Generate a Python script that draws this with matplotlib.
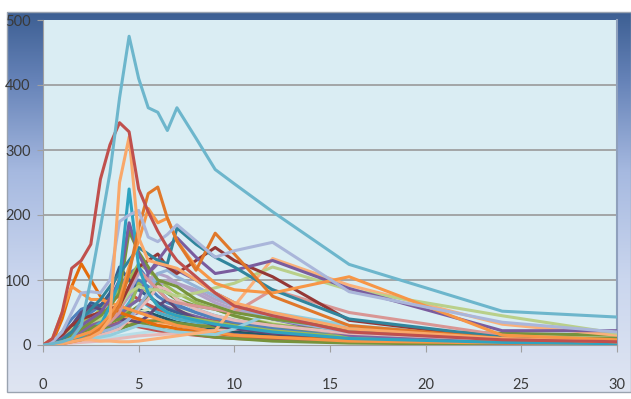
import numpy as np
import matplotlib
matplotlib.use("Agg")
import matplotlib.pyplot as plt
from matplotlib.colors import LinearSegmentedColormap
from matplotlib.patches import Rectangle

# ---- data ----
T = [0, 0.5, 1, 1.5, 2, 2.5, 3, 3.5, 4, 4.5, 5, 5.5, 6, 6.5, 7, 8, 9, 10, 12, 16, 24, 30]

s_low01 = [0, 2, 5, 10, 15, 20, 25, 30, 35, 40, 38, 35, 30, 28, 25, 22, 18, 15, 10, 5, 2, 1]
s_low02 = [0, 1, 3, 6, 10, 15, 20, 25, 30, 35, 40, 38, 35, 32, 30, 28, 25, 22, 18, 10, 5, 3]
s_low03 = [0, 1, 2, 4, 6, 8, 10, 12, 14, 16, 18, 20, 22, 24, 26, 28, 30, 30, 28, 16, 8, 5]
s_low04 = [0, 2, 5, 10, 18, 25, 30, 35, 40, 45, 55, 50, 45, 40, 35, 30, 25, 20, 15, 8, 3, 2]
s_low05 = [0, 3, 8, 15, 25, 35, 45, 40, 35, 30, 28, 25, 22, 20, 18, 15, 12, 10, 8, 5, 2, 1]
s_low06 = [0, 3, 8, 15, 20, 25, 30, 35, 40, 45, 50, 55, 60, 58, 55, 50, 45, 40, 35, 25, 15, 10]
s_low07 = [0, 2, 6, 12, 20, 28, 35, 40, 50, 60, 70, 60, 50, 45, 40, 35, 30, 26, 20, 12, 5, 3]
s_low08 = [0, 1, 4, 8, 12, 18, 22, 28, 34, 45, 50, 48, 40, 35, 30, 24, 20, 16, 12, 6, 2, 1]
s_low09 = [0, 2, 6, 14, 22, 30, 28, 26, 24, 30, 35, 30, 26, 22, 20, 16, 12, 10, 6, 3, 1, 0]
s_low10 = [0, 1, 2, 3, 4, 5, 6, 8, 10, 12, 14, 15, 16, 17, 18, 20, 22, 24, 26, 18, 8, 4]
s_add1 = [0, 4, 12, 25, 40, 50, 60, 75, 90, 110, 120, 100, 85, 70, 62, 50, 40, 33, 25, 12, 5, 2]
s_add2 = [0, 3, 8, 18, 28, 40, 55, 70, 85, 100, 125, 115, 100, 90, 80, 65, 55, 45, 32, 18, 8, 4]
s_add3 = [0, 2, 6, 12, 20, 30, 40, 50, 65, 80, 85, 75, 65, 58, 52, 44, 36, 30, 22, 10, 4, 2]
s_add4 = [0, 5, 15, 30, 45, 55, 62, 70, 75, 80, 70, 62, 55, 50, 45, 40, 36, 32, 28, 18, 8, 4]
s_add5 = [0, 2, 5, 9, 14, 20, 26, 34, 45, 65, 90, 105, 95, 80, 70, 55, 45, 38, 28, 15, 6, 3]
s_add6 = [0, 3, 10, 22, 35, 45, 50, 48, 45, 42, 40, 38, 36, 34, 32, 30, 28, 26, 22, 14, 6, 3]
s_add7 = [0, 1, 3, 6, 10, 14, 18, 22, 26, 30, 34, 36, 38, 36, 34, 30, 28, 26, 24, 22, 18, 15]
s_add8 = [0, 2, 5, 10, 15, 22, 30, 40, 55, 75, 95, 100, 110, 105, 95, 80, 65, 55, 40, 22, 8, 4]
s_blue1 = [0, 5, 20, 40, 55, 60, 55, 50, 60, 80, 100, 90, 75, 65, 60, 50, 42, 35, 25, 12, 5, 3]
s_blue2 = [0, 3, 10, 25, 45, 65, 60, 80, 120, 100, 85, 75, 65, 55, 50, 40, 35, 30, 20, 10, 4, 2]
s_purple2 = [0, 5, 15, 30, 50, 60, 55, 45, 40, 38, 35, 45, 60, 70, 55, 40, 30, 25, 18, 8, 3, 0]
s_green2 = [0, 3, 10, 20, 30, 45, 40, 35, 45, 55, 95, 80, 60, 50, 45, 40, 35, 30, 22, 12, 5, 3]
s_lav2 = [0, 2, 5, 10, 15, 20, 30, 45, 60, 80, 110, 105, 90, 100, 95, 85, 70, 60, 45, 25, 8, 4]
s_purple3 = [0, 2, 5, 10, 15, 20, 25, 35, 45, 60, 70, 110, 125, 120, 115, 100, 80, 65, 40, 15, 5, 2]
s_green3 = [0, 2, 5, 10, 15, 25, 30, 35, 40, 50, 60, 75, 95, 80, 70, 60, 55, 45, 30, 20, 10, 8]
s_pink2 = [0, 1, 3, 5, 8, 12, 15, 20, 25, 40, 55, 70, 90, 85, 70, 55, 45, 38, 30, 18, 8, 4]
s_blue3 = [0, 2, 5, 8, 12, 16, 20, 24, 30, 40, 60, 80, 110, 115, 105, 90, 75, 60, 40, 20, 8, 4]
s_dorange2 = [0, 5, 40, 90, 125, 100, 75, 60, 50, 45, 40, 35, 30, 28, 25, 20, 18, 15, 12, 8, 4, 2]
s_orange2 = [0, 10, 50, 90, 80, 70, 70, 65, 60, 55, 50, 45, 40, 35, 30, 25, 20, 15, 12, 6, 3, 2]
s_lblue = [0, 2, 4, 6, 8, 10, 12, 15, 20, 25, 30, 28, 25, 22, 20, 18, 16, 25, 50, 30, 12, 5]
s_pink = [0, 2, 5, 10, 15, 20, 25, 35, 50, 90, 115, 100, 85, 70, 65, 60, 55, 50, 85, 50, 15, 5]
s_peach2 = [0, 2, 5, 8, 8, 8, 6, 6, 5, 5, 6, 8, 10, 12, 14, 18, 22, 60, 133, 92, 32, 15]
s_lgreen = [0, 5, 15, 25, 30, 35, 40, 50, 60, 80, 90, 85, 85, 80, 75, 80, 88, 95, 120, 85, 45, 18]
s_dred = [0, 5, 15, 30, 40, 45, 50, 55, 60, 90, 120, 130, 140, 120, 110, 130, 150, 130, 105, 38, 10, 5]
s_olive = [0, 2, 8, 15, 25, 35, 45, 60, 80, 175, 143, 120, 100, 95, 90, 70, 60, 50, 40, 25, 12, 10]
s_purple = [0, 3, 10, 20, 30, 40, 50, 70, 100, 188, 140, 110, 130, 150, 165, 135, 110, 115, 130, 87, 22, 22]
s_teal2 = [0, 2, 8, 20, 40, 55, 70, 90, 110, 130, 150, 140, 130, 125, 180, 155, 135, 120, 85, 40, 12, 6]
s_teal1 = [0, 0, 3, 8, 12, 20, 30, 60, 100, 240, 120, 80, 60, 50, 45, 38, 32, 28, 20, 10, 4, 2]
s_orange = [0, 2, 5, 10, 15, 20, 30, 45, 70, 120, 160, 210, 188, 195, 160, 120, 95, 85, 80, 105, 15, 8]
s_dorange = [0, 0, 2, 5, 8, 15, 25, 40, 60, 110, 180, 233, 243, 195, 160, 115, 172, 140, 75, 30, 10, 5]
s_lavender = [0, 5, 20, 50, 80, 82, 80, 100, 190, 200, 207, 166, 159, 170, 185, 160, 135, 145, 158, 82, 35, 20]
s_peach = [0, 0, 2, 5, 8, 12, 20, 40, 250, 320, 165, 130, 126, 122, 118, 100, 80, 65, 50, 25, 10, 5]
s_red = [0, 10, 50, 118, 130, 155, 255, 308, 342, 328, 240, 205, 175, 150, 130, 105, 80, 60, 45, 20, 8, 5]
s_cyan = [0, 2, 5, 10, 30, 100, 180, 265, 380, 475, 410, 365, 358, 330, 365, 318, 270, 248, 205, 124, 52, 43]

series = [
    (s_low01, "#C0504D"), (s_low02, "#FAC090"), (s_low03, "#B7DEE8"),
    (s_low04, "#215968"), (s_low05, "#C0504D"), (s_low06, "#D7E4BD"),
    (s_low07, "#4BACC6"), (s_low08, "#8064A2"), (s_low09, "#77933C"),
    (s_low10, "#E6B9B8"),
    (s_add1, "#4F81BD"), (s_add2, "#9BBB59"), (s_add3, "#8064A2"),
    (s_add4, "#C0504D"), (s_add5, "#4BACC6"), (s_add6, "#F79646"),
    (s_add7, "#76923C"), (s_add8, "#B3A2C7"),
    (s_blue1, "#4F81BD"), (s_blue2, "#376092"), (s_purple2, "#5F497A"),
    (s_green2, "#9BBB59"), (s_lav2, "#B3A2C7"), (s_purple3, "#8064A2"),
    (s_green3, "#77933C"), (s_pink2, "#E6B9B8"), (s_blue3, "#95B3D7"),
    (s_dorange2, "#E46C0A"), (s_orange2, "#F79646"), (s_lblue, "#93CDDD"),
    (s_pink, "#D99694"), (s_peach2, "#FAB07A"), (s_lgreen, "#B9D08A"),
    (s_dred, "#953735"), (s_olive, "#77933C"), (s_purple, "#7A5C9E"),
    (s_teal2, "#31859C"), (s_teal1, "#2FA3C0"), (s_orange, "#F79646"),
    (s_dorange, "#E0782A"), (s_lavender, "#AAB6DA"), (s_peach, "#F9A86A"),
    (s_red, "#C0504D"), (s_cyan, "#6DB6CC"),
]

W, H = 631, 399
fig = plt.figure(figsize=(W / 100, H / 100), dpi=100)
fig.patch.set_facecolor("white")

# gradient frame
fx0, fy0, fx1, fy1 = 7, 12, 631, 392
bg = fig.add_axes([fx0 / W, 1 - fy1 / H, (fx1 - fx0) / W, (fy1 - fy0) / H], zorder=0)
cmap = LinearSegmentedColormap.from_list(
    "g", [(0.0, "#3D5F93"), (0.18, "#6683B8"), (0.42, "#A6B9E0"), (0.7, "#CAD6EE"), (1.0, "#DFE5F2")])
grad = np.linspace(0, 1, 256).reshape(-1, 1)
bg.imshow(grad, aspect="auto", cmap=cmap, extent=[0, 1, 1, 0])
bg.set_xlim(0, 1); bg.set_ylim(1, 0)
bg.axis("off")
fig.patches.append(Rectangle((fx0 / W, 1 - fy1 / H), (fx1 - fx0) / W, (fy1 - fy0) / H,
                             transform=fig.transFigure, fill=False, edgecolor="#9AA3B0", lw=1.0, zorder=1))

# plot area
px0, py0, px1, py1 = 43, 20, 617, 345
ax = fig.add_axes([px0 / W, 1 - py1 / H, (px1 - px0) / W, (py1 - py0) / H], zorder=2)
ax.set_facecolor("#DAEDF3")
for y in [100, 200, 300, 400]:
    ax.axhline(y, color="#9A9A9A", lw=1.2, zorder=1)

for vals, col in series:
    ax.plot(T, vals, color=col, lw=2.2, solid_joinstyle="round", solid_capstyle="round", zorder=3)

ax.set_xlim(0, 30)
ax.set_ylim(0, 500)
ax.set_xticks([0, 5, 10, 15, 20, 25, 30])
ax.set_yticks([0, 100, 200, 300, 400, 500])

fam = ["Lato", "DejaVu Sans"]
for lab in ax.get_xticklabels() + ax.get_yticklabels():
    lab.set_family(fam)
ax.tick_params(axis="x", direction="out", length=5, color="#A0A0A0", pad=19, labelsize=10.5, labelcolor="#3A3A3A")
ax.tick_params(axis="y", direction="out", length=4, color="#A0A0A0", pad=5, labelsize=10.5, labelcolor="#3A3A3A")
ax.spines["top"].set_visible(False)
ax.spines["left"].set_color("#A0A0A0")
ax.spines["bottom"].set_color("#A0A0A0")
ax.spines["right"].set_color("#8FA0BC")
ax.spines["right"].set_linewidth(1.5)

fig.savefig("out.png", dpi=100)
